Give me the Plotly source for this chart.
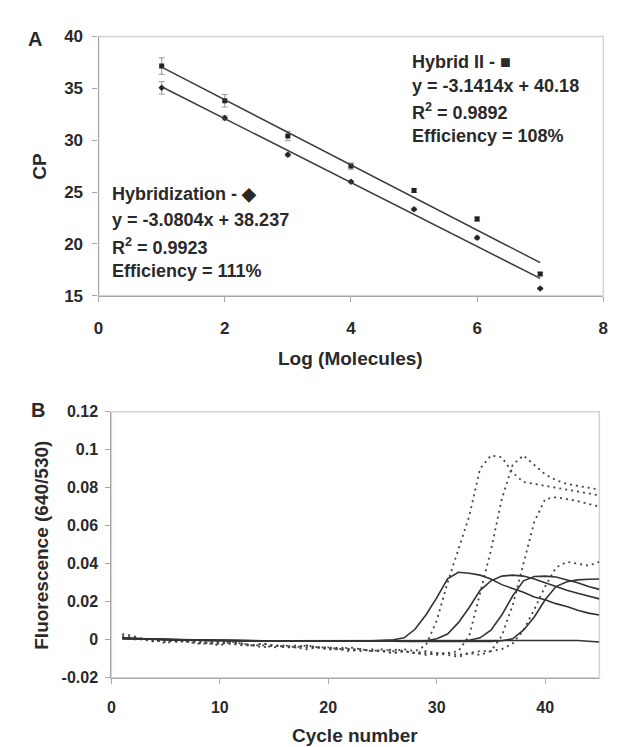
import numpy as np
import plotly.graph_objects as go

# ---------------- Panel A data ----------------
log_molecules = [1, 2, 3, 4, 5, 6, 7]
cp_hybrid2 = [37.15, 33.8, 30.4, 27.5, 25.15, 22.4, 17.1]
cp_hybrid2_err = [0.8, 0.6, 0.45, 0.3, 0.2, 0.2, 0.15]
cp_hybridization = [35.05, 32.15, 28.6, 26.0, 23.35, 20.6, 15.7]
cp_hybridization_err = [0.6, 0.2, 0.15, 0.1, 0.1, 0.15, 0.1]
fit_hybrid2 = (-3.1414, 40.18)
fit_hybridization = (-3.0804, 38.237)
label_hybrid2 = ["Hybrid II - ■", "y = -3.1414x + 40.18", "R<sup>2</sup> = 0.9892", "Efficiency = 108%"]
label_hybridization = ["Hybridization - ◆", "y = -3.0804x + 38.237", "R<sup>2</sup> = 0.9923", "Efficiency = 111%"]
xticks_a = [0, 2, 4, 6, 8]
yticks_a = [15, 20, 25, 30, 35, 40]

# ---------------- Panel B data ----------------
cycles = list(range(1, 46))
solid_1 = [0.001, 0.0008, 0.0005, 0.0003, 0.0, -0.0002, 0.0, -0.0003, -0.0005, -0.0005,
           -0.0005, -0.0006, -0.0006, -0.0006, -0.0007, -0.0006, -0.0007, -0.0008, -0.0008, -0.0008,
           -0.0008, -0.0007, -0.0006, -0.0005, -0.0003, 0.0, 0.001, 0.0055, 0.013, 0.022,
           0.032, 0.0355, 0.035, 0.034, 0.032, 0.029, 0.027, 0.025, 0.0225, 0.021,
           0.019, 0.0175, 0.0155, 0.014, 0.013]
solid_2 = [0.0008, 0.0006, 0.0004, 0.0002, 0.0, -0.0001, -0.0002, -0.0003, -0.0004, -0.0005,
           -0.0005, -0.0005, -0.0006, -0.0006, -0.0006, -0.0006, -0.0007, -0.0007, -0.0007, -0.0008,
           -0.0008, -0.0008, -0.0008, -0.0008, -0.0008, -0.0008, -0.0008, -0.0008, -0.0006, 0.0005,
           0.003, 0.009, 0.017, 0.026, 0.031, 0.0335, 0.034, 0.0335, 0.032, 0.030,
           0.028, 0.026, 0.0245, 0.023, 0.0215]
solid_3 = [0.0006, 0.0005, 0.0003, 0.0002, 0.0, -0.0001, -0.0002, -0.0003, -0.0003, -0.0004,
           -0.0004, -0.0005, -0.0005, -0.0005, -0.0006, -0.0006, -0.0006, -0.0007, -0.0007, -0.0007,
           -0.0007, -0.0008, -0.0008, -0.0008, -0.0008, -0.0009, -0.0009, -0.0009, -0.001, -0.001,
           -0.001, -0.0008, -0.0003, 0.001, 0.005, 0.013, 0.023, 0.031, 0.0333, 0.0335,
           0.033, 0.0315, 0.030, 0.028, 0.0265]
solid_4 = [0.0005, 0.0004, 0.0002, 0.0001, 0.0, -0.0001, -0.0002, -0.0002, -0.0003, -0.0003,
           -0.0004, -0.0004, -0.0005, -0.0005, -0.0005, -0.0006, -0.0006, -0.0006, -0.0006, -0.0007,
           -0.0007, -0.0007, -0.0007, -0.0008, -0.0008, -0.0008, -0.0009, -0.0009, -0.0009, -0.001,
           -0.001, -0.001, -0.001, -0.001, -0.0009, -0.0005, 0.0005, 0.005, 0.012, 0.021,
           0.028, 0.0305, 0.0315, 0.0318, 0.032]
solid_ntc = [0.0007, 0.0005, 0.0003, 0.0002, 0.0, -0.0001, -0.0002, -0.0002, -0.0003, -0.0003,
             -0.0004, -0.0004, -0.0004, -0.0005, -0.0005, -0.0005, -0.0005, -0.0005, -0.0006, -0.0006,
             -0.0006, -0.0006, -0.0006, -0.0006, -0.0006, -0.0006, -0.0006, -0.0006, -0.0006, -0.0006,
             -0.0006, -0.0006, -0.0006, -0.0006, -0.0006, -0.0006, -0.0006, -0.0006, -0.0005, -0.0005,
             -0.0005, -0.0004, -0.0004, -0.0008, -0.0012]
dotted_1 = [0.003, 0.002, 0.0, 0.0005, -0.002, 0.0, -0.001, -0.002, -0.002, -0.003,
            -0.001, -0.002, -0.003, -0.003, -0.004, -0.003, -0.004, -0.003, -0.004, -0.004,
            -0.005, -0.004, -0.005, -0.006, -0.005, -0.006, -0.005, -0.006, -0.003, 0.010,
            0.030, 0.047, 0.065, 0.090, 0.097, 0.096, 0.088, 0.083, 0.082, 0.081,
            0.080, 0.079, 0.078, 0.077, 0.076]
dotted_2 = [0.001, 0.0, 0.001, -0.001, 0.0, -0.001, -0.001, -0.002, -0.001, -0.002,
            -0.002, -0.003, -0.003, -0.004, -0.003, -0.004, -0.004, -0.005, -0.004, -0.005,
            -0.005, -0.006, -0.005, -0.006, -0.006, -0.007, -0.006, -0.007, -0.007, -0.008,
            -0.007, -0.006, 0.002, 0.024, 0.047, 0.074, 0.092, 0.097, 0.092, 0.087,
            0.084, 0.082, 0.081, 0.080, 0.079]
dotted_3 = [0.002, 0.001, 0.0, 0.0, -0.001, 0.0, -0.001, -0.001, -0.002, -0.002,
            -0.001, -0.002, -0.003, -0.002, -0.003, -0.003, -0.004, -0.003, -0.004, -0.004,
            -0.005, -0.005, -0.006, -0.005, -0.006, -0.007, -0.006, -0.007, -0.008, -0.007,
            -0.008, -0.009, -0.007, -0.008, -0.006, 0.002, 0.018, 0.040, 0.062, 0.074,
            0.075, 0.074, 0.073, 0.0715, 0.070]
dotted_4 = [0.001, 0.001, 0.0, -0.001, 0.0, -0.001, 0.0, -0.001, -0.002, -0.001,
            -0.002, -0.002, -0.003, -0.002, -0.003, -0.004, -0.003, -0.004, -0.004, -0.005,
            -0.004, -0.005, -0.005, -0.006, -0.006, -0.005, -0.006, -0.007, -0.006, -0.007,
            -0.007, -0.008, -0.007, -0.006, -0.006, -0.005, -0.002, 0.005, 0.016, 0.028,
            0.038, 0.041, 0.040, 0.039, 0.041]
xticks_b = [0, 10, 20, 30, 40]
yticks_b = [-0.02, 0, 0.02, 0.04, 0.06, 0.08, 0.1, 0.12]
ytick_text_b = ["-0.02", "0", "0.02", "0.04", "0.06", "0.08", "0.1", "0.12"]

# ---------------- figure ----------------
W, H = 618, 747
FONT = "Liberation Sans, Arial, sans-serif"
TXT = "#2a2a2a"
LINE = "#333333"

def px_x(p):
    return p / W

def px_y(p):
    return 1 - p / H

fig = go.Figure()

# Panel A traces
fig.add_trace(go.Scatter(
    x=log_molecules, y=cp_hybrid2, mode="markers",
    marker=dict(symbol="square", size=5, color="#222"),
    error_y=dict(type="data", array=cp_hybrid2_err, color="#999", thickness=1, width=3),
    xaxis="x", yaxis="y", showlegend=False))
fig.add_trace(go.Scatter(
    x=log_molecules, y=cp_hybridization, mode="markers",
    marker=dict(symbol="diamond", size=5, color="#222"),
    error_y=dict(type="data", array=cp_hybridization_err, color="#999", thickness=1, width=3),
    xaxis="x", yaxis="y", showlegend=False))
xs = np.array([min(log_molecules), max(log_molecules)], dtype=float)
for slope, icpt in (fit_hybrid2, fit_hybridization):
    fig.add_trace(go.Scatter(x=xs, y=slope * xs + icpt, mode="lines",
                             line=dict(color="#3a3a3a", width=1.5),
                             xaxis="x", yaxis="y", showlegend=False))

# Panel B traces
for series in (dotted_1, dotted_2, dotted_3, dotted_4):
    fig.add_trace(go.Scatter(x=cycles, y=series, mode="lines",
                             line=dict(color="#444", width=1.8, dash="2px,4px"),
                             xaxis="x2", yaxis="y2", showlegend=False))
for series in (solid_ntc, solid_1, solid_2, solid_3, solid_4):
    fig.add_trace(go.Scatter(x=cycles, y=series, mode="lines",
                             line=dict(color=LINE, width=1.6),
                             xaxis="x2", yaxis="y2", showlegend=False))

def axis_common(size):
    return dict(showgrid=False, zeroline=False, showline=True, linecolor="#a8a8a8",
                linewidth=1.2, ticks="outside", ticklen=5, tickcolor="#a8a8a8",
                tickwidth=1.2, tickfont=dict(family=FONT, size=size, color=TXT, weight="bold"))

fig.update_layout(
    width=W, height=H, margin=dict(l=0, r=0, t=0, b=0),
    paper_bgcolor="white", plot_bgcolor="white",
    xaxis=dict(domain=[px_x(87), px_x(600)], range=[0, 8], tickvals=xticks_a,
               anchor="y", ticklabelstandoff=12, **axis_common(17)),
    yaxis=dict(domain=[px_y(286), px_y(20)], range=[15, 40], tickvals=yticks_a,
               anchor="x", ticklabelstandoff=6, **axis_common(17)),
    xaxis2=dict(domain=[px_x(100), px_x(596)], range=[0, 45], tickvals=xticks_b,
                anchor="y2", ticklabelstandoff=10, **axis_common(16)),
    yaxis2=dict(domain=[px_y(678), px_y(405)], range=[-0.02, 0.12], tickvals=yticks_b,
                ticktext=ytick_text_b, anchor="x2", ticklabelstandoff=4, **axis_common(16)),
)

# light plot-area borders
for xr, yr in (("x domain", "y domain"), ("x2 domain", "y2 domain")):
    fig.add_shape(type="rect", xref=xr, yref=yr, x0=0, x1=1, y0=0, y1=1,
                  line=dict(color="#d4d4d4", width=1.5), layer="below")

ann = []
def add_text(text, x, y, size, xanchor="left", angle=0):
    ann.append(dict(text=text, x=px_x(x), y=px_y(y), xref="paper", yref="paper",
                    xanchor=xanchor, yanchor="middle", showarrow=False, textangle=angle,
                    font=dict(family=FONT, size=size, color=TXT, weight="bold")))

for txt, yy in zip(label_hybrid2, (46, 71, 97, 122)):
    add_text(txt, 404, yy, 18)
for txt, yy in zip(label_hybridization, (182, 208, 235, 261)):
    add_text(txt, 99, yy, 18)

add_text("A", 22, 23, 20, xanchor="center")
add_text("B", 25, 403, 20, xanchor="center")
add_text("CP", 27, 153, 19, xanchor="center", angle=-90)
add_text("Log (Molecules)", 343, 350, 19, xanchor="center")
add_text("Fluorescence (640/530)", 29, 542, 19, xanchor="center", angle=-90)
add_text("Cycle number", 348, 737, 19, xanchor="center")

fig.update_layout(annotations=ann)
fig.write_html("out.html")
